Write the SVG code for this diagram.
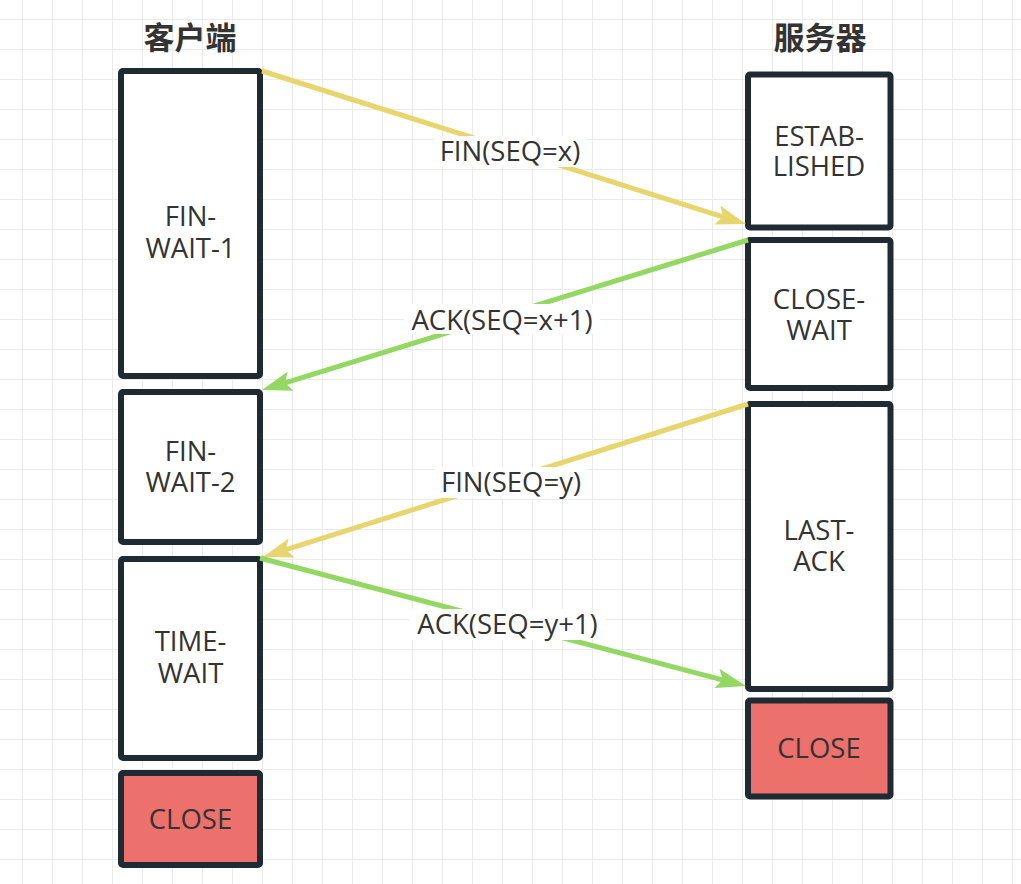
<svg xmlns="http://www.w3.org/2000/svg" width="1021" height="884" viewBox="0 0 1021 884">
<style>
.box{fill:#ffffff;stroke:#1f2a33;stroke-width:6;}
.close{fill:#ec706b;stroke:#1f2a33;stroke-width:6;}
.lbl{font-family:"Open Sans","Noto Sans",sans-serif;font-size:27.5px;fill:#333333;text-anchor:middle;}
.title{font-family:"Noto Sans CJK SC",sans-serif;font-size:31px;font-weight:bold;fill:#333333;text-anchor:middle;}
.fin{fill:none;stroke:#e8d56e;stroke-width:5;}
.ack{fill:none;stroke:#93d863;stroke-width:5;}
.bg{fill:#ffffff;}
</style>
<defs>
<pattern id="grid" x="22" y="19" width="30" height="30" patternUnits="userSpaceOnUse">
<path d="M0 0.5H30M0.5 0V30" stroke="#ebebeb" stroke-width="1" fill="none"/>
</pattern>
<marker id="ay" viewBox="0 0 6 4" refX="1.5" refY="2" markerWidth="6" markerHeight="4" orient="auto" markerUnits="strokeWidth">
<path d="M0 0L6 2L0 4L1.2 2Z" fill="#e8d56e"/>
</marker>
<marker id="ag" viewBox="0 0 6 4" refX="1.5" refY="2" markerWidth="6" markerHeight="4" orient="auto" markerUnits="strokeWidth">
<path d="M0 0L6 2L0 4L1.2 2Z" fill="#93d863"/>
</marker>
</defs>
<rect width="1021" height="884" fill="#ffffff"/>
<rect width="1021" height="884" fill="url(#grid)"/>

<g id="title-client"><text class="title" x="190" y="49">客户端</text></g>
<g id="title-server"><text class="title" x="820" y="49">服务器</text></g>

<g id="fin-wait-1"><rect class="box" x="121" y="71" width="139" height="305" rx="2"/>
<text class="lbl" x="190.5" y="226">FIN-<tspan x="190.5" dy="32">WAIT-1</tspan></text></g>
<g id="fin-wait-2"><rect class="box" x="121" y="392" width="139" height="150" rx="2"/>
<text class="lbl" x="190.5" y="461">FIN-<tspan x="190.5" dy="31">WAIT-2</tspan></text></g>
<g id="time-wait"><rect class="box" x="121" y="559" width="139" height="199" rx="2"/>
<text class="lbl" x="190.5" y="651">TIME-<tspan x="190.5" dy="32">WAIT</tspan></text></g>
<g id="close-client"><rect class="close" x="121" y="773" width="139" height="92" rx="2"/>
<text class="lbl" x="190.5" y="829">CLOSE</text></g>

<g id="established"><rect class="box" x="748" y="74.5" width="142.5" height="153" rx="2"/>
<text class="lbl" x="819" y="145.5">ESTAB-<tspan x="819" dy="30.5">LISHED</tspan></text></g>
<g id="close-wait"><rect class="box" x="748" y="240" width="142.5" height="148" rx="2"/>
<text class="lbl" x="819" y="309">CLOSE-<tspan x="819" dy="31">WAIT</tspan></text></g>
<g id="last-ack"><rect class="box" x="748" y="404" width="142.5" height="285" rx="2"/>
<text class="lbl" x="819" y="540">LAST-<tspan x="819" dy="31">ACK</tspan></text></g>
<g id="close-server"><rect class="close" x="748" y="700.5" width="142.5" height="96" rx="2"/>
<text class="lbl" x="819" y="758">CLOSE</text></g>

<g id="connectors">
<path class="fin" d="M262 71L724.5 217.3" marker-end="url(#ay)"/>
<path class="ack" d="M748 240L283.5 383.3" marker-end="url(#ag)"/>
<path class="fin" d="M748 404L284.5 550.2" marker-end="url(#ay)"/>
<path class="ack" d="M260 558L724.2 680.3" marker-end="url(#ag)"/>
<rect class="bg" x="434" y="136" width="152" height="31"/>
<text class="lbl" x="510" y="161">FIN(SEQ=x)</text>
<rect class="bg" x="404" y="304" width="196" height="30"/>
<text class="lbl" x="502" y="329.5">ACK(SEQ=x+1)</text>
<rect class="bg" x="435" y="467" width="152" height="31"/>
<text class="lbl" x="511" y="492">FIN(SEQ=y)</text>
<rect class="bg" x="409" y="609" width="197" height="31"/>
<text class="lbl" x="507.5" y="633.5">ACK(SEQ=y+1)</text>
</g>
</svg>
